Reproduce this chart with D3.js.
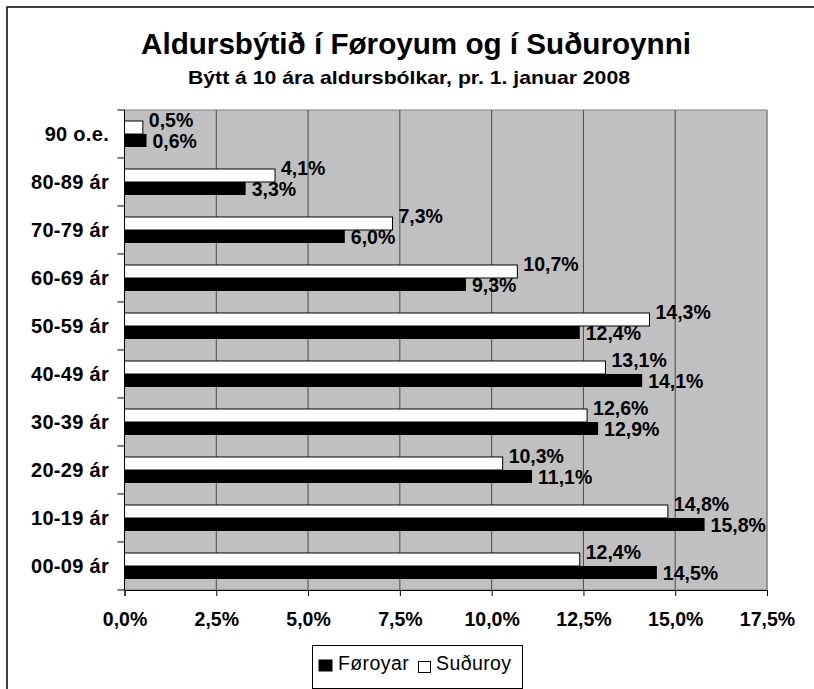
<!DOCTYPE html>
<html><head><meta charset="utf-8">
<script src="https://cdn.jsdelivr.net/npm/d3@7"></script>
<style>
html,body{margin:0;padding:0;background:#fff;}
svg{display:block;font-family:"Liberation Sans",Arial,sans-serif;}
</style></head>
<body>
<svg id="c" width="814" height="689"></svg>
<script>
const categories = ["90 o.e.","80-89 ár","70-79 ár","60-69 ár","50-59 ár","40-49 ár","30-39 ár","20-29 ár","10-19 ár","00-09 ár"];
const foroyar = [0.6,3.3,6.0,9.3,12.4,14.1,12.9,11.1,15.8,14.5];
const suduroy = [0.5,4.1,7.3,10.7,14.3,13.1,12.6,10.3,14.8,12.4];
const xTicks = [0,2.5,5,7.5,10,12.5,15,17.5];
const seriesNames = ["Føroyar","Suðuroy"];
const titleText = "Aldursbýtið í Føroyum og í Suðuroynni";
const subtitleText = "Býtt á 10 ára aldursbólkar, pr. 1. januar 2008";

const svg = d3.select("#c");
const fmt = v => d3.format(".1f")(v).replace(".", ",") + "%";

// outer frame
svg.append("rect").attr("x",7).attr("y",7).attr("width",900).attr("height",900)
  .attr("fill","none").attr("stroke","#000").attr("stroke-width",1.5);

const x = d3.scaleLinear().domain([0,17.5]).range([124.5,767]);
const y = d3.scaleBand().domain(categories).range([110,590]).padding(0);
const bh = 13;

// plot background
svg.append("rect").attr("x",x(0)).attr("y",110).attr("width",x(17.5)-x(0)).attr("height",480)
  .attr("fill","#c0c0c0").attr("stroke","#808080").attr("stroke-width",1);

// gridlines
svg.append("g").selectAll("line").data(xTicks.filter(t=>t>0)).join("line")
  .attr("x1",d=>x(d)).attr("x2",d=>x(d)).attr("y1",110).attr("y2",590)
  .attr("stroke",d=>d===17.5?"#808080":"#4a4a4a").attr("stroke-width",1);

// bars
const g = svg.append("g");
categories.forEach((c,i)=>{
  const cy = y(c) + y.bandwidth()/2;
  g.append("rect").attr("x",x(0)).attr("y",cy-bh).attr("width",x(suduroy[i])-x(0)).attr("height",bh)
    .attr("fill","#fff").attr("stroke","#000").attr("stroke-width",1);
  g.append("rect").attr("x",x(0)).attr("y",cy).attr("width",x(foroyar[i])-x(0)).attr("height",bh)
    .attr("fill","#000");
  g.append("text").attr("x",x(suduroy[i])+6).attr("y",cy-7.5)
    .attr("font-size",19.5).attr("font-weight","bold").text(fmt(suduroy[i]));
  g.append("text").attr("x",x(foroyar[i])+6).attr("y",cy+14.2)
    .attr("font-size",19.5).attr("font-weight","bold").text(fmt(foroyar[i]));
  g.append("text").attr("x",109).attr("y",cy+7).attr("text-anchor","end")
    .attr("font-size",20).attr("font-weight","bold").attr("letter-spacing",0.3).text(c);
});

// left axis
const la = svg.append("g");
la.append("line").attr("x1",x(0)).attr("x2",x(0)).attr("y1",110).attr("y2",590).attr("stroke","#000");
const bounds = categories.map(c=>y(c)).concat([590]);
la.selectAll("line.t").data(bounds).join("line").attr("class","t")
  .attr("x1",x(0)-7).attr("x2",x(0)).attr("y1",d=>d).attr("y2",d=>d).attr("stroke","#000");

// bottom axis
const xa = svg.append("g").attr("transform","translate(0,590)")
  .call(d3.axisBottom(x).tickValues(xTicks).tickSize(6).tickPadding(16).tickFormat(fmt));
xa.select(".domain").attr("stroke","#000");
xa.selectAll(".tick line").attr("stroke","#000");
xa.selectAll("text").attr("font-size",19.5).attr("font-weight","bold").attr("fill","#000")
  .attr("font-family","Liberation Sans, Arial, sans-serif");

// titles
svg.append("text").attr("x",141).attr("y",54).attr("font-size",29.5).attr("font-weight","bold")
  .attr("textLength",550).attr("lengthAdjust","spacingAndGlyphs").text(titleText);
svg.append("text").attr("x",188).attr("y",84).attr("font-size",19).attr("font-weight","bold")
  .attr("textLength",442).attr("lengthAdjust","spacingAndGlyphs").text(subtitleText);

// legend
const lg = svg.append("g");
lg.append("rect").attr("x",312.5).attr("y",645.5).attr("width",210).attr("height",43)
  .attr("fill","#fff").attr("stroke","#000");
lg.append("rect").attr("x",318.5).attr("y",659.5).attr("width",14).attr("height",12).attr("fill","#000");
lg.append("text").attr("x",338).attr("y",670).attr("font-size",19.5).attr("letter-spacing",0.4).text(seriesNames[0]);
lg.append("rect").attr("x",418.5).attr("y",661.5).attr("width",12).attr("height",11)
  .attr("fill","#fff").attr("stroke","#000");
lg.append("text").attr("x",436).attr("y",670).attr("font-size",19.5).attr("letter-spacing",0.4).text(seriesNames[1]);
</script>
</body></html>
